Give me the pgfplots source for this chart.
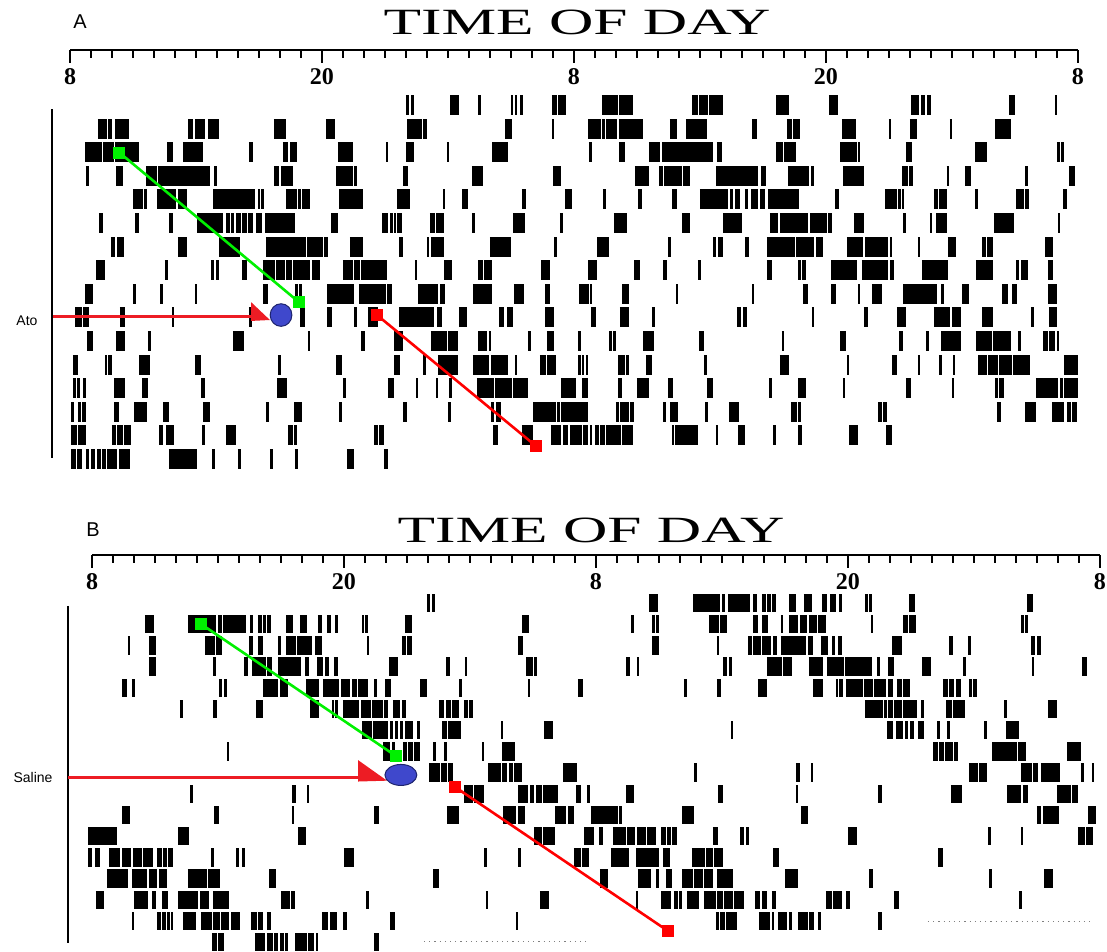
\documentclass[border=0pt]{standalone}
\usepackage{pgfplots}
\pgfplotsset{compat=1.18}
\usepackage{pgfplotstable}
\usepackage{graphicx}
\usepackage{fontspec}
\setmainfont{Liberation Serif}
\newfontfamily\sansfont{Liberation Sans}

\definecolor{markgreen}{RGB}{0,240,0}
\definecolor{markred}{RGB}{255,0,0}
\definecolor{arrowred}{RGB}{237,28,36}
\definecolor{dotblue}{RGB}{63,72,204}
\definecolor{dotedge}{RGB}{30,36,110}

% Activity bouts, Ato animal: start hour, end hour, row (day)
\pgfplotstableread{
s e r
24.00 24.14 1
24.24 24.38 1
26.10 26.52 1
27.43 27.55 1
29.00 29.10 1
29.19 29.29 1
29.43 29.57 1
30.95 31.19 1
31.24 31.62 1
33.33 34.10 1
34.14 34.81 1
37.62 37.90 1
37.95 38.38 1
38.43 39.10 1
41.62 42.24 1
44.14 44.57 1
48.05 48.43 1
48.52 48.71 1
48.81 49.00 1
52.71 53.00 1
54.90 55.00 1
9.33 9.76 2
9.81 10.00 2
10.14 10.81 2
13.62 13.86 2
13.95 14.43 2
14.57 15.10 2
17.71 18.29 2
20.19 20.62 2
24.05 24.76 2
24.81 25.00 2
28.71 29.05 2
30.95 31.05 2
32.67 33.29 2
33.33 33.48 2
33.52 34.05 2
34.14 35.29 2
36.57 36.90 2
37.33 38.33 2
40.48 40.71 2
42.14 42.38 2
42.43 42.76 2
44.76 45.43 2
47.00 47.10 2
48.00 48.33 2
49.90 50.00 2
52.05 52.81 2
8.71 9.52 3
9.57 10.10 3
10.14 11.29 3
12.62 12.90 3
13.38 14.33 3
16.52 16.71 3
18.14 18.38 3
18.48 18.81 3
20.76 21.48 3
23.05 23.14 3
24.00 24.38 3
25.95 26.05 3
28.10 28.86 3
32.71 32.86 3
34.14 34.43 3
35.57 36.10 3
36.19 38.62 3
38.81 39.05 3
41.62 41.95 3
42.00 42.57 3
44.67 45.48 3
45.52 45.62 3
47.81 48.10 3
51.10 51.67 3
55.00 55.14 3
55.19 55.33 3
8.76 8.90 4
10.19 10.52 4
11.62 12.14 4
12.19 14.67 4
14.86 15.00 4
17.71 17.95 4
18.05 18.62 4
20.67 21.48 4
21.52 21.67 4
23.86 24.10 4
27.14 27.67 4
31.00 31.38 4
34.90 35.57 4
36.05 36.24 4
36.29 37.14 4
37.19 37.52 4
38.76 40.76 4
40.90 41.14 4
42.19 43.19 4
43.29 43.43 4
44.81 45.81 4
47.62 47.90 4
47.95 48.14 4
49.74 49.86 4
50.62 50.90 4
53.48 53.62 4
55.57 55.86 4
11.00 11.48 5
11.52 11.67 5
12.14 13.05 5
13.14 13.57 5
14.81 16.81 5
16.95 17.05 5
17.10 17.24 5
18.29 18.81 5
18.86 19.00 5
19.05 19.43 5
20.81 21.95 5
23.57 24.19 5
25.76 25.86 5
26.67 26.95 5
29.52 29.71 5
31.57 31.90 5
33.38 33.52 5
35.05 35.24 5
36.67 36.90 5
38.00 39.33 5
39.43 39.57 5
39.67 39.90 5
40.14 40.29 5
40.43 40.76 5
40.86 41.10 5
41.24 42.71 5
44.43 44.62 5
46.81 47.38 5
47.43 47.57 5
47.62 47.71 5
49.14 49.33 5
49.38 49.76 5
51.10 51.24 5
53.05 53.43 5
53.48 53.67 5
55.29 55.48 5
9.38 9.57 6
11.10 11.29 6
12.71 12.90 6
14.05 15.29 6
15.43 15.62 6
15.67 15.81 6
15.90 16.14 6
16.19 16.43 6
16.48 16.71 6
16.86 17.14 6
17.29 18.71 6
20.43 20.76 6
22.86 23.14 6
23.24 23.38 6
23.43 23.52 6
23.57 23.81 6
25.14 25.38 6
25.43 25.81 6
27.14 27.29 6
29.10 29.67 6
31.33 31.48 6
33.90 34.52 6
37.14 37.52 6
39.10 40.00 6
41.33 41.71 6
41.81 43.14 6
43.24 44.05 6
44.10 44.29 6
45.33 45.81 6
47.67 47.81 6
48.95 49.05 6
49.24 49.76 6
52.00 52.95 6
55.05 55.14 6
9.95 10.14 7
10.24 10.57 7
13.14 13.57 7
15.10 16.10 7
17.33 19.24 7
19.29 20.05 7
20.10 20.29 7
21.33 21.95 7
23.67 23.86 7
25.00 25.10 7
25.19 25.81 7
28.00 29.00 7
31.05 31.19 7
33.10 33.67 7
36.48 36.62 7
38.62 38.76 7
38.86 39.10 7
40.14 40.33 7
41.19 42.52 7
42.57 43.43 7
43.52 43.86 7
45.00 45.76 7
45.86 46.95 7
47.05 47.14 7
48.38 48.48 7
49.81 50.19 7
51.43 51.62 7
51.67 51.95 7
54.43 54.81 7
9.24 9.67 8
12.52 12.67 8
14.71 14.86 8
14.95 15.10 8
16.19 16.43 8
17.19 17.76 8
17.81 18.24 8
18.29 18.57 8
18.62 19.43 8
19.52 19.90 8
21.00 21.48 8
21.52 21.81 8
21.86 23.10 8
24.43 24.52 8
25.81 26.19 8
27.43 27.67 8
27.71 28.10 8
30.43 30.86 8
32.67 33.10 8
34.86 35.14 8
36.24 36.43 8
37.90 38.05 8
41.19 41.43 8
42.67 42.81 8
42.86 43.05 8
44.24 45.48 8
45.71 46.95 8
47.05 47.24 8
48.57 49.81 8
51.14 51.95 8
53.05 53.19 8
53.29 53.62 8
54.57 54.81 8
8.71 9.10 9
11.00 11.14 9
12.29 12.43 9
13.95 14.05 9
17.19 17.43 9
18.71 18.86 9
18.90 19.05 9
20.24 21.52 9
21.76 23.05 9
23.10 23.33 9
24.57 25.52 9
25.62 25.86 9
27.19 28.10 9
29.14 29.62 9
30.62 30.86 9
32.24 32.71 9
32.76 32.86 9
34.29 34.62 9
36.86 36.95 9
40.48 40.57 9
42.90 43.14 9
44.24 44.48 9
45.52 45.62 9
46.19 46.67 9
47.67 49.29 9
49.48 49.62 9
50.48 50.81 9
52.38 52.67 9
52.86 53.10 9
54.57 55.00 9
8.24 8.57 10
8.62 8.90 10
10.38 10.62 10
12.86 12.95 10
16.52 16.67 10
18.95 19.19 10
20.24 20.48 10
21.52 21.67 10
22.19 22.67 10
23.67 25.33 10
25.48 25.71 10
26.52 26.90 10
28.43 28.67 10
28.81 29.10 10
30.62 31.05 10
32.81 33.05 10
34.19 34.62 10
35.71 35.86 10
39.76 39.95 10
40.05 40.24 10
43.33 43.43 10
45.81 46.00 10
47.38 47.81 10
49.14 49.90 10
50.00 50.43 10
51.43 51.95 10
53.76 53.90 10
54.62 55.00 10
8.81 9.10 11
10.19 10.62 11
11.71 11.86 11
15.76 16.29 11
19.33 19.43 11
21.86 22.05 11
23.43 23.86 11
25.19 25.95 11
26.00 26.48 11
27.43 27.86 11
27.95 28.05 11
29.81 29.95 11
30.71 31.05 11
32.19 32.33 11
33.67 33.81 11
33.86 34.00 11
35.29 35.81 11
37.95 38.19 11
41.90 42.00 11
44.67 44.95 11
47.48 47.67 11
48.76 48.90 11
49.48 50.43 11
51.14 51.90 11
51.95 52.81 11
53.14 53.29 11
54.33 54.57 11
54.62 54.90 11
55.00 55.10 11
8.14 8.38 12
9.67 9.76 12
9.81 10.00 12
11.29 11.81 12
13.95 14.24 12
17.90 18.05 12
20.67 20.95 12
23.43 23.71 12
24.81 24.95 12
25.52 26.48 12
27.19 27.95 12
28.05 28.86 12
29.19 29.29 12
30.38 30.67 12
30.71 31.14 12
32.19 32.33 12
32.38 32.48 12
32.57 32.67 12
34.10 34.43 12
34.48 34.62 12
35.43 35.71 12
38.19 38.33 12
41.81 42.24 12
45.00 45.10 12
47.14 47.38 12
48.38 48.48 12
49.38 49.52 12
50.05 50.14 12
51.24 51.67 12
51.71 52.19 12
52.24 52.86 12
52.90 53.71 12
55.33 56.00 12
8.14 8.29 13
8.33 8.48 13
8.62 8.76 13
10.10 10.62 13
11.43 11.71 13
14.24 14.43 13
17.86 18.33 13
21.00 21.14 13
23.14 23.43 13
24.48 24.57 13
25.43 25.52 13
26.05 26.19 13
27.38 28.19 13
28.24 29.05 13
29.10 29.81 13
31.38 32.10 13
32.38 32.67 13
34.10 34.29 13
35.00 35.57 13
36.48 36.71 13
38.33 38.62 13
41.29 41.43 13
42.67 43.05 13
44.81 44.90 13
47.81 48.05 13
50.00 50.10 13
52.05 52.19 13
52.24 52.48 13
54.00 55.05 13
55.14 55.29 13
55.33 56.00 13
8.05 8.19 14
8.38 8.52 14
8.57 8.76 14
10.10 10.33 14
11.05 11.67 14
12.43 12.71 14
14.33 14.67 14
17.33 17.48 14
18.67 19.05 14
20.81 20.95 14
23.86 24.05 14
26.00 26.14 14
28.05 28.19 14
28.29 28.52 14
30.05 31.14 14
31.19 31.33 14
31.38 32.67 14
34.00 34.14 14
34.19 34.62 14
34.67 34.86 14
36.24 36.38 14
36.57 36.95 14
38.24 38.38 14
39.38 39.86 14
42.33 42.62 14
42.67 42.81 14
46.48 46.67 14
46.71 46.90 14
52.14 52.33 14
53.48 54.00 14
54.76 55.33 14
55.48 55.67 14
55.71 55.95 14
8.05 8.33 15
8.38 8.76 15
10.00 10.19 15
10.24 10.52 15
10.57 10.90 15
12.24 12.43 15
12.57 12.95 15
14.29 14.43 15
15.43 15.90 15
18.38 18.62 15
18.67 18.81 15
22.48 22.67 15
22.71 22.95 15
28.14 28.38 15
29.52 30.05 15
30.90 31.38 15
31.48 31.71 15
31.81 32.38 15
32.43 32.67 15
32.76 32.86 15
33.00 33.19 15
33.24 33.48 15
33.52 34.24 15
34.29 34.81 15
36.67 36.76 15
36.81 37.90 15
38.76 38.86 15
39.81 40.14 15
41.48 41.62 15
42.67 42.86 15
45.10 45.52 15
46.86 47.14 15
8.05 8.29 16
8.33 8.57 16
8.76 8.90 16
9.00 9.19 16
9.29 9.48 16
9.52 9.71 16
9.76 10.24 16
10.33 10.86 16
12.71 14.05 16
14.76 14.90 16
16.00 16.14 16
17.52 17.67 16
18.71 18.86 16
21.19 21.52 16
22.95 23.14 16
}\boutsA

% Activity bouts, saline animal: start hour, end hour, row (day)
\pgfplotstableread{
s e r
23.95 24.10 1
24.19 24.33 1
34.52 34.95 1
36.62 37.90 1
38.00 38.14 1
38.29 39.33 1
39.48 39.67 1
39.90 40.10 1
40.14 40.33 1
40.38 40.57 1
41.19 41.52 1
41.90 42.29 1
42.76 43.00 1
43.14 43.43 1
43.57 43.71 1
44.81 44.95 1
45.00 45.14 1
46.90 47.19 1
52.52 52.81 1
10.52 10.95 2
12.57 13.90 2
14.00 14.19 2
14.24 15.33 2
15.52 15.67 2
15.90 16.10 2
16.14 16.29 2
16.33 16.52 2
17.24 17.57 2
17.90 18.24 2
18.76 18.95 2
19.19 19.38 2
19.57 19.71 2
20.86 20.95 2
21.00 21.14 2
22.90 23.24 2
28.48 28.81 2
33.68 33.80 2
34.67 34.81 2
34.86 35.00 2
37.38 37.86 2
37.90 38.24 2
39.48 39.71 2
39.90 40.19 2
40.81 40.90 2
41.19 41.62 2
41.71 42.05 2
42.14 42.52 2
42.57 42.95 2
45.10 45.19 2
46.62 46.86 2
46.90 47.24 2
52.24 52.38 2
52.43 52.57 2
9.71 9.81 3
10.71 11.05 3
13.38 13.86 3
13.90 14.19 3
15.48 15.67 3
15.90 16.14 3
16.86 17.00 3
17.24 17.71 3
17.76 18.48 3
18.62 18.95 3
21.10 21.19 3
22.76 22.95 3
23.00 23.24 3
28.29 28.52 3
34.67 35.00 3
37.76 37.86 3
39.24 39.43 3
39.48 39.86 3
39.90 40.33 3
40.43 40.62 3
40.81 42.00 3
42.10 42.33 3
42.71 43.05 3
43.24 43.38 3
43.52 43.71 3
46.10 46.57 3
48.81 49.00 3
49.71 49.86 3
52.71 52.90 3
53.00 53.19 3
10.71 11.05 4
13.76 13.90 4
15.24 15.43 4
15.62 16.29 4
16.33 16.57 4
16.86 17.95 4
18.14 18.33 4
18.71 19.00 4
19.10 19.29 4
19.52 19.71 4
22.14 22.57 4
24.86 25.05 4
25.76 25.86 4
28.67 29.00 4
29.05 29.19 4
33.43 33.62 4
33.95 34.05 4
38.05 38.24 4
38.33 38.48 4
40.14 40.86 4
40.90 41.33 4
42.14 42.81 4
43.00 43.81 4
43.86 45.14 4
45.38 45.52 4
45.90 46.19 4
47.52 47.95 4
49.48 49.62 4
52.76 52.86 4
55.14 55.38 4
9.43 9.67 5
9.90 10.05 5
14.05 14.19 5
14.29 14.43 5
16.14 16.86 5
16.95 17.33 5
18.19 18.81 5
19.00 19.76 5
19.86 20.29 5
20.38 20.62 5
20.67 21.14 5
21.43 21.57 5
21.95 22.24 5
23.62 23.95 5
25.48 25.62 5
28.76 28.86 5
31.14 31.38 5
36.19 36.33 5
37.76 37.95 5
39.71 40.14 5
42.33 42.81 5
43.43 43.52 5
43.57 43.76 5
43.90 44.71 5
44.76 45.19 5
45.24 45.81 5
45.90 46.14 5
46.33 46.57 5
46.62 46.95 5
48.52 48.76 5
48.81 49.05 5
49.14 49.38 5
49.76 49.90 5
49.95 50.14 5
12.19 12.33 6
13.76 13.95 6
15.81 16.14 6
18.38 18.81 6
19.43 19.52 6
19.57 19.71 6
19.95 20.71 6
20.81 21.29 6
21.33 21.86 6
21.90 22.10 6
22.33 22.67 6
22.76 22.95 6
24.52 24.76 6
24.86 25.10 6
25.14 25.48 6
25.71 25.90 6
25.95 26.14 6
44.81 45.67 6
45.71 45.86 6
45.90 46.14 6
46.19 46.57 6
46.62 47.29 6
47.48 47.62 6
48.67 48.95 6
49.00 49.57 6
51.43 51.57 6
53.52 53.95 6
20.86 21.33 7
21.38 22.10 7
22.19 22.33 7
22.43 22.57 7
22.67 22.81 7
22.90 23.29 7
23.48 23.62 7
24.67 24.90 7
24.95 25.57 7
27.48 27.57 7
29.52 29.95 7
38.43 38.52 7
45.86 46.14 7
46.29 46.62 7
46.71 46.86 7
46.95 47.14 7
47.33 47.62 7
48.24 48.38 7
48.71 48.86 7
50.48 50.62 7
51.52 52.14 7
14.43 14.52 8
21.86 22.19 8
22.29 22.43 8
22.81 23.00 8
23.05 23.29 8
23.33 23.62 8
24.24 24.38 8
24.76 24.90 8
26.57 26.67 8
27.52 28.14 8
48.05 48.29 8
48.33 48.57 8
48.62 49.00 8
49.05 49.24 8
50.86 52.05 8
52.10 52.48 8
54.43 55.10 8
24.05 24.57 9
24.62 24.90 9
24.95 25.19 9
26.86 27.48 9
27.52 27.76 9
27.86 28.05 9
28.10 28.48 9
30.43 31.10 9
36.67 36.81 9
41.52 41.71 9
42.24 42.33 9
49.76 50.19 9
50.24 50.62 9
52.24 52.76 9
52.81 53.05 9
53.19 54.10 9
55.10 55.24 9
55.62 55.71 9
12.67 12.81 10
17.52 17.71 10
18.24 18.33 10
25.71 26.14 10
26.19 26.67 10
28.29 28.76 10
28.86 29.05 10
29.14 29.43 10
29.48 30.19 10
31.05 31.29 10
31.57 31.71 10
33.43 33.81 10
37.81 38.05 10
41.52 41.62 10
45.43 45.62 10
48.90 49.43 10
51.57 52.24 10
52.33 52.57 10
53.95 54.62 10
54.67 54.95 10
9.43 9.81 11
13.81 14.05 11
17.52 17.62 11
21.43 21.67 11
24.90 25.48 11
27.57 28.19 11
28.29 28.62 11
30.05 30.57 11
30.67 30.95 11
31.76 33.05 11
33.10 33.24 11
36.10 36.67 11
41.76 42.10 11
53.00 53.19 11
53.29 54.05 11
55.43 55.81 11
7.81 9.19 12
12.10 12.62 12
17.81 18.19 12
29.05 29.43 12
29.48 30.05 12
31.43 31.90 12
32.14 32.33 12
32.81 33.43 12
33.48 33.86 12
33.95 34.38 12
34.43 34.86 12
35.10 35.33 12
35.38 35.57 12
35.62 35.86 12
37.57 37.81 12
38.86 39.05 12
39.14 39.29 12
44.00 44.43 12
50.67 50.81 12
52.24 52.33 12
54.95 55.29 12
55.33 55.67 12
7.81 8.00 13
8.14 8.38 13
8.81 9.33 13
9.43 9.86 13
9.95 10.38 13
10.43 10.90 13
11.10 11.33 13
11.38 11.57 13
11.62 11.86 13
13.67 13.81 13
14.86 15.00 13
15.14 15.29 13
20.00 20.48 13
26.67 26.81 13
28.29 28.43 13
30.95 31.29 13
31.33 31.67 13
32.71 33.57 13
33.90 35.00 13
35.19 35.52 13
36.57 37.19 13
37.24 37.57 13
37.62 38.05 13
40.43 40.71 13
48.29 48.52 13
8.71 9.71 14
9.90 10.62 14
10.71 11.10 14
11.19 11.57 14
12.57 13.48 14
13.52 14.10 14
16.43 16.76 14
24.24 24.52 14
32.19 32.57 14
34.00 34.62 14
34.86 35.00 14
35.33 35.62 14
36.10 36.62 14
36.67 37.10 14
37.14 37.57 14
37.76 38.52 14
41.00 41.62 14
45.00 45.19 14
50.71 50.86 14
53.33 53.76 14
8.19 8.57 15
10.00 10.67 15
10.86 11.05 15
11.33 11.62 15
12.10 13.05 15
13.14 13.57 15
13.76 14.52 15
17.00 17.43 15
17.48 17.67 15
21.05 21.19 15
26.76 26.86 15
29.33 29.76 15
33.90 34.00 15
35.10 35.57 15
35.71 35.90 15
35.95 36.10 15
36.33 36.90 15
37.14 37.71 15
37.76 38.05 15
38.10 38.52 15
38.57 39.05 15
39.57 39.81 15
39.90 40.14 15
40.38 40.57 15
42.95 43.24 15
43.29 43.71 15
43.90 44.10 15
46.19 46.43 15
52.14 52.29 15
9.90 10.00 16
11.10 11.29 16
11.33 11.52 16
11.57 11.71 16
11.76 11.86 16
12.33 12.95 16
13.19 13.71 16
13.76 14.10 16
14.14 14.52 16
14.62 15.05 16
15.57 15.86 16
15.90 16.14 16
16.33 16.52 16
18.95 19.24 16
19.33 19.67 16
19.95 20.14 16
22.19 22.43 16
28.19 28.29 16
37.71 37.86 16
37.90 38.14 16
38.19 38.71 16
39.76 40.29 16
40.38 40.48 16
40.67 41.10 16
41.19 41.33 16
41.62 42.10 16
42.14 42.38 16
42.57 42.71 16
45.43 45.62 16
13.71 13.95 17
14.00 14.29 17
15.76 16.24 17
16.33 16.62 17
16.67 16.86 17
16.95 17.14 17
17.19 17.33 17
17.67 18.24 17
18.29 18.57 17
18.67 18.76 17
21.43 21.67 17
}\boutsB

\pgfplotsset{
  actogram/.style={
    scale only axis, width=1008pt,
    xmin=8, xmax=56,
    axis x line*=top, axis y line=none,
    axis line style={-, line width=1.5pt},
    xtick={8,20,32,44,56}, xticklabels={8,20,8,20,8},
    minor x tick num=11,
    xtick align=inside,
    major tick length=13pt, minor tick length=8pt,
    major tick style={line width=1.5pt, black},
    minor tick style={line width=1.2pt, black},
    xticklabel style={anchor=north, yshift=-15pt,
      font=\bfseries\fontsize{24}{24}\selectfont},
    ytick=\empty,
    clip=false,
  },
  bouts/.style={draw=none, mark=none, forget plot,
    /pgfplots/error bars/x dir=plus,
    /pgfplots/error bars/x explicit,
    /pgfplots/error bars/error mark=none,
    /pgfplots/error bars/error bar style={line width=#1, black}},
  link/.style={line width=2.6pt, forget plot},
  linkend/.style={only marks, mark=square*, mark size=5.5pt, forget plot},
}

\begin{document}
\begin{tikzpicture}
\path[use as bounding box] (0,0) rectangle (1107pt,-951pt);

% ---------- panel A ----------
\begin{axis}[actogram, at={(70pt,-50pt)}, anchor=north west,
  height=425pt, ymin=-16.678, ymax=1.3305]
\addplot[bouts=20pt] table[x=s, y expr=-\thisrow{r},
  x error expr=\thisrow{e}-\thisrow{s}] {\boutsA};
\addplot[black, line width=2pt, forget plot] coordinates {(7.14,-1.17) (7.14,-15.96)};
\addplot[arrowred, line width=3pt, forget plot] coordinates {(7.19,-9.98) (17.0,-9.98)};
\addplot[fill=arrowred, draw=none, forget plot] coordinates {(16.62,-9.35) (16.62,-10.15) (17.52,-10.11)};
\addplot[only marks, mark=*, mark size=11.3pt, forget plot,
  mark options={fill=dotblue, draw=dotedge, line width=1pt, xscale=0.96}]
  coordinates {(18.05,-9.90)};
\addplot[markgreen, link] coordinates {(10.33,-3) (18.90,-9.35)};
\addplot[markgreen, linkend] coordinates {(10.33,-3) (18.90,-9.35)};
\addplot[markred, link] coordinates {(22.62,-9.90) (30.19,-15.45)};
\addplot[markred, linkend] coordinates {(22.62,-9.90) (30.19,-15.45)};
\end{axis}

% ---------- panel B ----------
\begin{axis}[actogram, at={(92pt,-555pt)}, anchor=north west,
  height=396pt, ymin=-17.415, ymax=1.2642]
\addplot[bouts=18.5pt] table[x=s, y expr=-\thisrow{r},
  x error expr=\thisrow{e}-\thisrow{s}] {\boutsB};
\addplot[black, line width=2pt, forget plot] coordinates {(6.86,-1.14) (6.86,-17.04)};
\addplot[gray, line width=1pt, dash pattern=on 1.2pt off 4pt, forget plot]
  coordinates {(23.81,-16.98) (31.67,-16.98)};
\addplot[gray, line width=1pt, dash pattern=on 1.2pt off 4pt, forget plot]
  coordinates {(47.81,-16.03) (55.62,-16.03)};
\addplot[arrowred, line width=3pt, forget plot] coordinates {(6.86,-9.25) (21.2,-9.25)};
\addplot[fill=arrowred, draw=none, forget plot] coordinates {(20.67,-8.41) (20.67,-9.42) (22.05,-9.38)};
\addplot[only marks, mark=*, mark size=10.5pt, forget plot,
  mark options={fill=dotblue, draw=dotedge, line width=1pt, xscale=1.52}]
  coordinates {(22.71,-9.11)};
\addplot[markgreen, link] coordinates {(13.19,-1.99) (22.48,-8.22)};
\addplot[markgreen, linkend] coordinates {(13.19,-1.99) (22.48,-8.22)};
\addplot[markred, link] coordinates {(25.29,-9.68) (35.43,-16.47)};
\addplot[markred, linkend] coordinates {(25.29,-9.68) (35.43,-16.47)};
\end{axis}

% ---------- labels ----------
\node[font=\sansfont\fontsize{20}{20}\selectfont] at (80pt,-22pt) {A};
\node at (577pt,-22pt) {\scalebox{1.66}[1]{\fontsize{37}{37}\selectfont TIME OF DAY}};
\node[font=\sansfont\fontsize{14}{14}\selectfont] at (27pt,-321pt) {Ato};
\node[font=\sansfont\fontsize{20}{20}\selectfont] at (93pt,-530pt) {B};
\node at (591pt,-530pt) {\scalebox{1.66}[1]{\fontsize{37}{37}\selectfont TIME OF DAY}};
\node[font=\sansfont\fontsize{14}{14}\selectfont] at (33pt,-777pt) {Saline};
\end{tikzpicture}
\end{document}
